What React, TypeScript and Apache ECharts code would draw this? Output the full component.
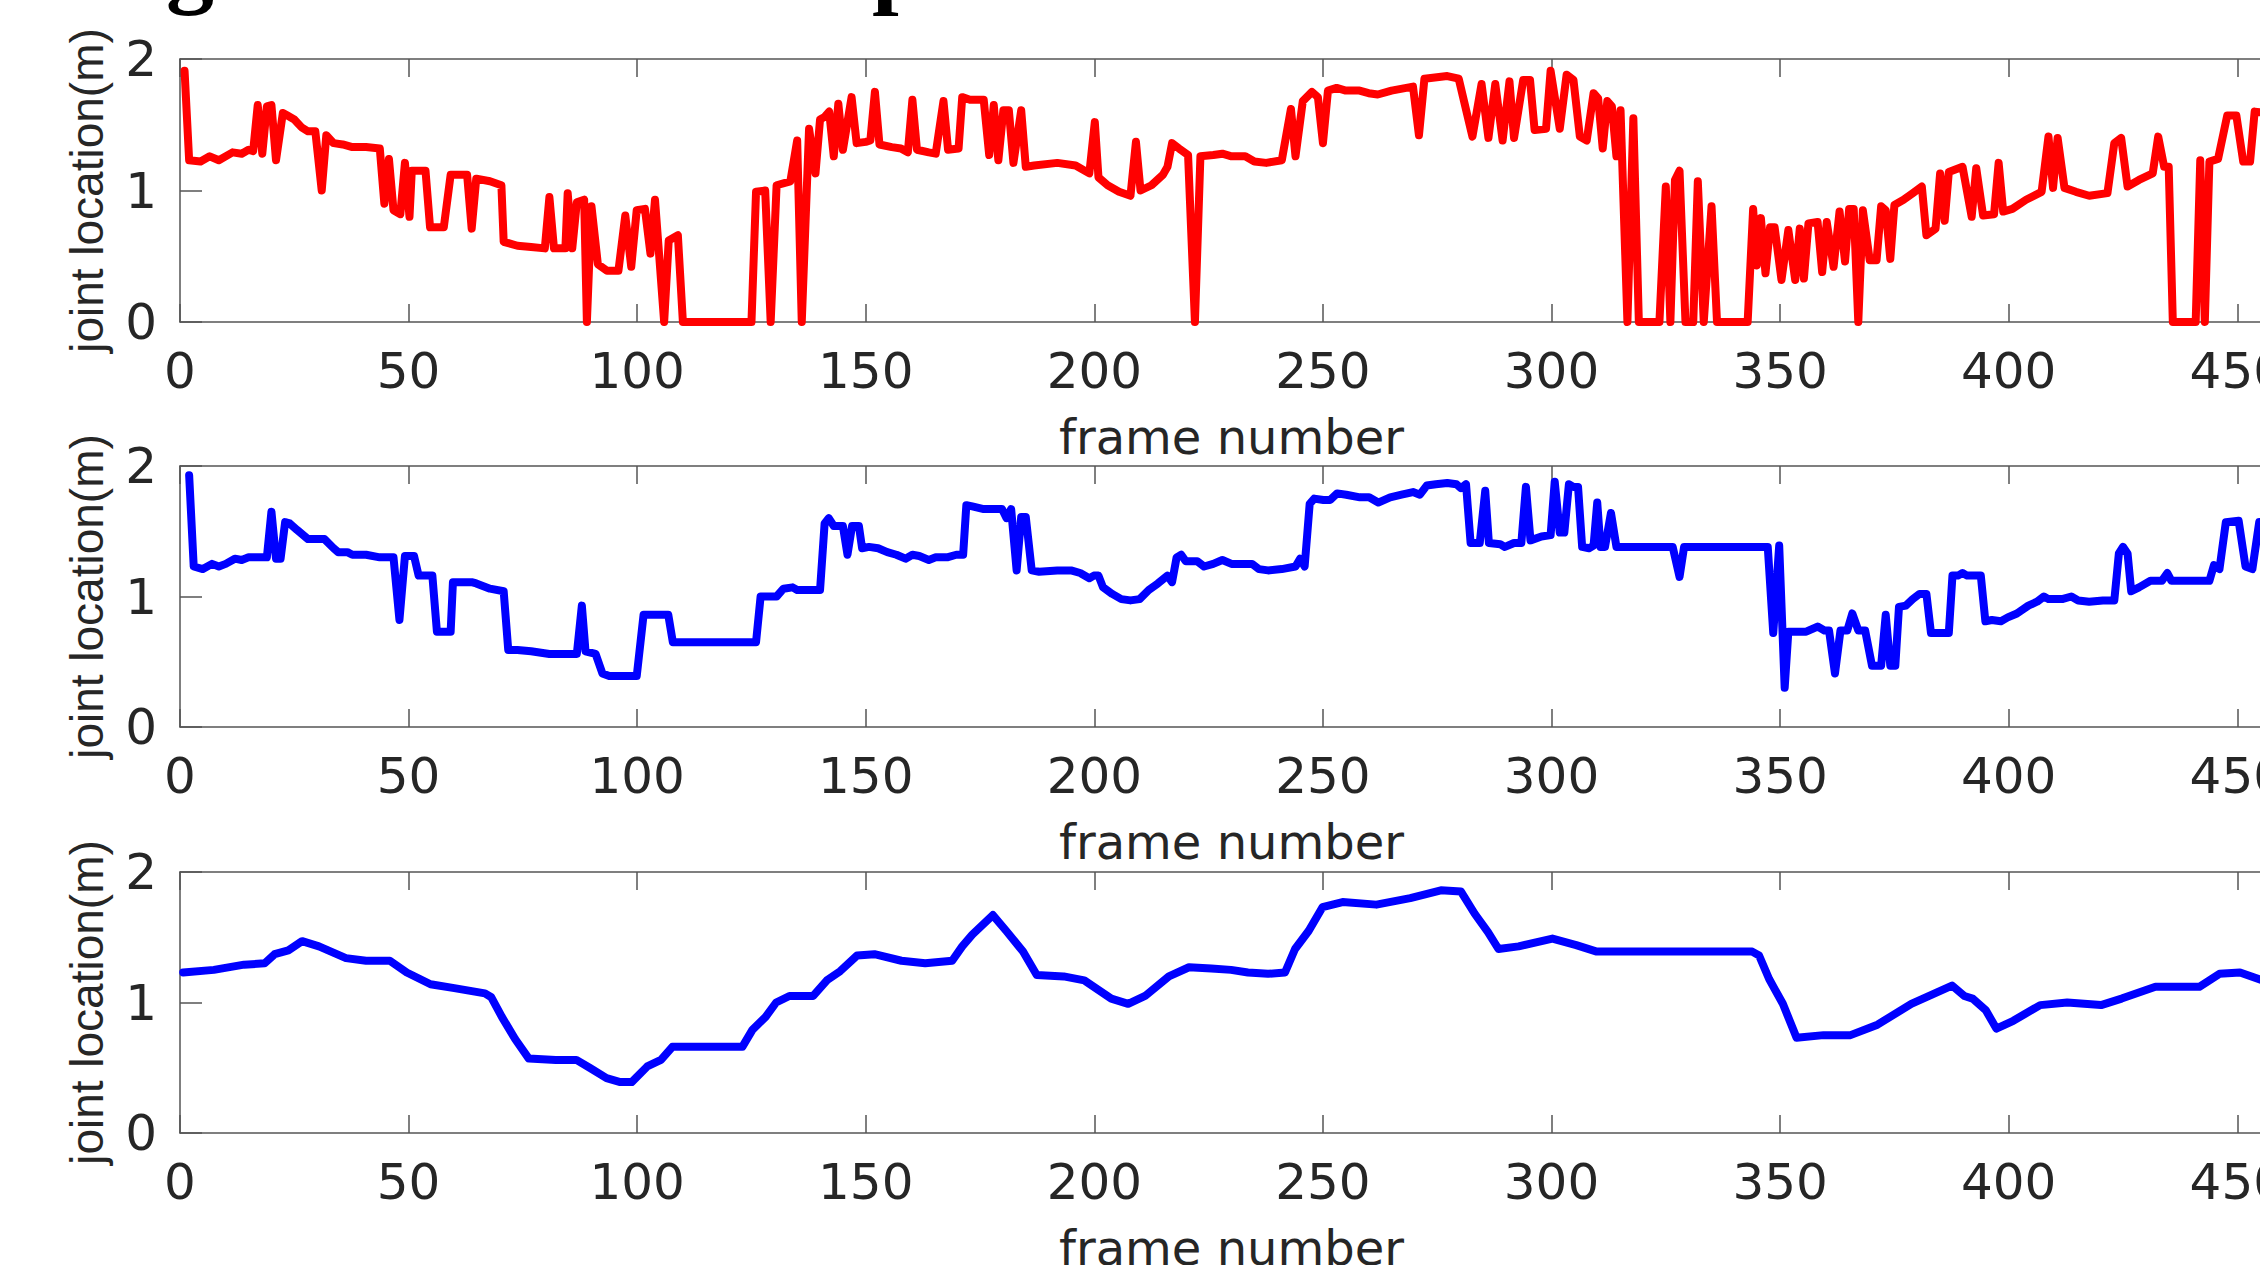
import React, { useEffect, useRef } from "react";
import * as echarts from "echarts";

// ---- data (frame number, joint location in m) ----
const yAxisTitle = "joint location(m)";
const xAxisTitle = "frame number";
const xTickStep = 50;
const yTickStep = 1;

const redPoints: [number, number][] = [
  [1,1.91],[2,1.23],[4.5,1.22],[6.5,1.26],[8.5,1.23],[11.5,1.29],[13.5,1.28],[15,1.31],[16,1.30],[17,1.65],[18,1.28],[19,1.64],[20,1.65],[21,1.23],[22.5,1.59],[23.5,1.57],[25,1.54],[26.6,1.48],[28,1.45],[29.6,1.45],[31,1.0],[32,1.42],[33.6,1.36],[35.6,1.35],[37.7,1.33],[40.7,1.33],[43.7,1.32],[44.7,0.90],[45.7,1.24],[46.7,0.85],[48.2,0.82],[49.2,1.21],[50.2,0.80],[50.7,1.15],[52.2,1.15],[53.7,1.15],[54.7,0.72],[57.7,0.72],[59.2,1.12],[62.8,1.12],[63.8,0.71],[64.8,1.09],[67.8,1.07],[70.3,1.04],[70.8,0.61],[73.8,0.58],[76.8,0.57],[79.8,0.56],[80.8,0.95],[81.8,0.56],[84.3,0.56],[84.8,0.98],[85.8,0.56],[86.8,0.91],[88.4,0.93],[89,0],[90,0.88],[91.4,0.44],[93.4,0.39],[95.9,0.39],[97.4,0.81],[98.7,0.42],[99.9,0.85],[101.7,0.86],[102.9,0.52],[103.9,0.93],[105.9,0],[106.9,0.62],[108.9,0.66],[110,0],[125,0],[126,0.99],[128,1.0],[129.2,0],[130.5,1.04],[133.5,1.07],[135,1.38],[136,0],[137.6,1.47],[139,1.13],[140,1.54],[141,1.56],[142,1.60],[143,1.26],[144,1.66],[145,1.31],[146.9,1.71],[148,1.36],[150,1.37],[151,1.38],[152,1.75],[153,1.35],[155.7,1.33],[157.7,1.32],[159.2,1.29],[160.2,1.69],[161.2,1.31],[163.8,1.29],[165.3,1.28],[167,1.68],[168,1.31],[170.3,1.32],[171.1,1.71],[172.8,1.69],[175.8,1.69],[177,1.27],[178,1.65],[179,1.23],[180.1,1.61],[181.3,1.61],[182.3,1.21],[184,1.61],[185,1.18],[186.8,1.19],[191.9,1.21],[195.9,1.19],[198.9,1.13],[200.1,1.52],[200.9,1.10],[202.9,1.04],[205.4,0.99],[207.9,0.96],[209.1,1.37],[210.1,1.00],[212.5,1.04],[215,1.12],[216,1.18],[217,1.36],[218.5,1.32],[220.5,1.27],[222,0],[223.2,1.26],[226,1.27],[228,1.28],[230,1.26],[233,1.26],[235,1.22],[237.6,1.21],[241,1.23],[243,1.62],[244,1.26],[245.6,1.68],[247.6,1.75],[248.9,1.71],[250,1.36],[251.1,1.76],[253,1.78],[255,1.76],[258,1.76],[260,1.74],[262,1.73],[265,1.76],[269.7,1.79],[271,1.42],[272.2,1.85],[277.2,1.87],[279.7,1.85],[282.7,1.41],[284.7,1.81],[286.2,1.40],[287.7,1.81],[289.3,1.38],[290.8,1.83],[291.8,1.40],[293.8,1.84],[295.3,1.84],[296.3,1.46],[298.8,1.47],[299.8,1.91],[301.8,1.47],[303.3,1.88],[304.8,1.84],[306.2,1.41],[307.7,1.38],[309.2,1.74],[310.2,1.70],[311.2,1.32],[312.2,1.68],[313.2,1.64],[314.2,1.26],[315.1,1.61],[316.6,0],[317.9,1.55],[319.1,0],[323.6,0],[325,1.03],[326,0],[327,1.08],[328,1.15],[329.3,0],[331,0],[332,1.07],[333.3,0],[335,0.88],[336.2,0],[342.9,0],[344.1,0.86],[344.9,0.43],[345.8,0.79],[346.8,0.37],[347.8,0.72],[348.8,0.72],[350.3,0.32],[351.8,0.70],[353.3,0.32],[354.3,0.71],[355.2,0.33],[356.2,0.75],[358.2,0.76],[359.2,0.38],[360.2,0.76],[361.7,0.42],[363,0.84],[364.2,0.46],[365.1,0.86],[366.1,0.86],[367.1,0],[368.1,0.85],[369.6,0.47],[371.1,0.47],[372.1,0.88],[373.1,0.85],[374.1,0.48],[375,0.89],[377,0.93],[379,0.98],[381,1.03],[382,0.66],[384,0.71],[385,1.13],[386,0.77],[386.9,1.14],[389.9,1.18],[391.9,0.80],[392.9,1.17],[394.4,0.81],[396.8,0.82],[397.8,1.21],[398.8,0.84],[400.8,0.86],[403.8,0.93],[407.2,0.99],[408.7,1.41],[409.7,1.02],[410.7,1.40],[412.2,1.02],[414.7,0.99],[417.6,0.96],[421.6,0.98],[423.1,1.36],[424.6,1.40],[426,1.03],[428.5,1.08],[431.5,1.13],[432.7,1.41],[434,1.18],[435,1.18],[435.9,0],[440.9,0],[441.9,1.23],[442.9,0],[443.9,1.22],[445.8,1.24],[447.8,1.57],[449.8,1.57],[451.3,1.22],[452.8,1.22],[453.8,1.60],[456,1.59]
];

const rawBluePoints: [number, number][] = [
  [2,1.93],[3,1.23],[5,1.21],[7,1.25],[8.5,1.23],[10,1.25],[12,1.29],[13.5,1.28],[15,1.30],[19,1.30],[20,1.65],[21,1.29],[22,1.29],[23,1.57],[24,1.56],[25.6,1.51],[28,1.44],[31.6,1.44],[33.6,1.37],[34.6,1.34],[36.6,1.34],[37.7,1.32],[40.7,1.32],[43.7,1.30],[46.7,1.30],[48,0.82],[49.2,1.31],[51.2,1.31],[52.2,1.16],[55.2,1.16],[56.2,0.73],[59.2,0.73],[59.7,1.11],[63.8,1.11],[64.8,1.10],[67.8,1.06],[70.8,1.04],[71.8,0.59],[73.8,0.59],[76.8,0.58],[80.8,0.56],[86.8,0.56],[87.9,0.93],[88.7,0.58],[90.9,0.56],[92.4,0.41],[93.9,0.39],[99.9,0.39],[101.4,0.86],[106.8,0.86],[107.8,0.65],[126,0.65],[127,1.00],[130.5,1.00],[132,1.06],[134,1.07],[135,1.05],[140,1.05],[141,1.56],[141.9,1.60],[143,1.54],[145,1.54],[146,1.32],[147,1.54],[148.5,1.54],[149.2,1.37],[150.7,1.38],[152.7,1.37],[154.7,1.34],[156.7,1.32],[158.7,1.29],[160.2,1.32],[161.7,1.31],[163.8,1.28],[165.3,1.30],[167.8,1.30],[169.8,1.32],[171.3,1.32],[172,1.70],[173.3,1.69],[175.8,1.67],[177.8,1.67],[179.8,1.67],[180.8,1.60],[181.8,1.67],[183,1.20],[184,1.61],[185,1.61],[186.3,1.20],[187.9,1.19],[191.9,1.20],[194.9,1.20],[196.9,1.18],[198.9,1.14],[199.9,1.16],[200.9,1.16],[201.9,1.07],[203.9,1.02],[205.9,0.98],[207.9,0.97],[209.9,0.98],[211.9,1.05],[213.9,1.10],[216,1.16],[217,1.11],[218,1.30],[219,1.32],[220,1.27],[222.5,1.27],[224,1.23],[226,1.25],[228,1.28],[230,1.25],[233,1.25],[234.5,1.25],[236,1.21],[238,1.20],[241,1.21],[244,1.23],[245,1.29],[246,1.23],[247.1,1.71],[248.1,1.75],[250.1,1.74],[251.6,1.74],[253.1,1.79],[255.1,1.78],[258.1,1.76],[260.1,1.76],[262.1,1.72],[264.7,1.76],[267.2,1.78],[269.7,1.80],[271.2,1.78],[272.7,1.85],[274.7,1.86],[277.2,1.87],[279.2,1.86],[280.2,1.83],[281.3,1.86],[282.3,1.41],[284.3,1.41],[285.5,1.81],[286.3,1.41],[288.8,1.40],[289.8,1.38],[291.8,1.41],[293.4,1.41],[294.4,1.84],[295.4,1.43],[297.8,1.46],[299.8,1.47],[300.7,1.88],[301.8,1.49],[302.8,1.49],[303.8,1.86],[304.8,1.84],[305.8,1.84],[306.7,1.38],[308.2,1.37],[309.2,1.39],[310,1.72],[310.7,1.38],[311.7,1.38],[313,1.64],[314.2,1.38],[326.5,1.38],[328,1.15],[329,1.38],[347.3,1.38],[348.5,0.72],[349.8,1.39],[351,0.30],[351.8,0.73],[355.7,0.73],[358.2,0.77],[359.7,0.74],[360.7,0.74],[362,0.41],[363.2,0.74],[364.7,0.74],[365.8,0.87],[367.1,0.74],[368.6,0.74],[370.1,0.47],[372.1,0.47],[373.1,0.86],[374.1,0.47],[375.2,0.47],[376,0.92],[377.5,0.93],[379,0.98],[380.5,1.02],[382,1.02],[383,0.72],[386.9,0.72],[387.7,1.16],[388.9,1.16],[389.9,1.18],[390.9,1.16],[393.9,1.16],[394.9,0.81],[396.3,0.82],[398.3,0.81],[399.8,0.84],[401.8,0.87],[404.3,0.93],[406.2,0.96],[407.7,1.00],[408.7,0.98],[411.7,0.98],[413.7,1.00],[415.2,0.97],[417.6,0.96],[420.6,0.97],[423.1,0.97],[424.1,1.33],[425,1.38],[426,1.33],[426.8,1.04],[428.5,1.07],[431,1.12],[433.5,1.12],[434.7,1.18],[435.6,1.12],[443.9,1.12],[444.9,1.24],[446.1,1.21],[447.5,1.57],[450.3,1.58],[451.8,1.23],[453.3,1.21],[454.8,1.57],[457,1.57]
];

const smoothBluePoints: [number, number][] = [
  [0.7,1.23],[7.4,1.25],[14,1.29],[18.5,1.30],[20.7,1.37],[23.7,1.40],[26.7,1.47],[30.4,1.43],[36.3,1.34],[40.7,1.32],[45.9,1.32],[49.6,1.23],[54.8,1.14],[60,1.11],[66.7,1.07],[68.1,1.04],[70.4,0.89],[73.3,0.72],[76.3,0.57],[82.2,0.56],[86.7,0.56],[89.6,0.50],[93.3,0.42],[96.3,0.39],[98.8,0.39],[102.2,0.51],[105.2,0.56],[107.7,0.66],[111.9,0.66],[117.8,0.66],[123,0.66],[125.2,0.79],[128.1,0.89],[130.4,1.00],[133.3,1.05],[138.5,1.05],[141.5,1.17],[144.4,1.24],[148.1,1.36],[151.9,1.37],[157.8,1.32],[163,1.30],[168.9,1.32],[171.1,1.43],[173.3,1.52],[177.8,1.67],[180.7,1.55],[184.4,1.39],[187.4,1.21],[193.3,1.20],[197.8,1.17],[203.7,1.03],[207.4,0.99],[211.1,1.05],[216.3,1.20],[220.7,1.27],[225.6,1.26],[229.9,1.25],[233.6,1.23],[238,1.22],[241.7,1.23],[243.9,1.41],[246.9,1.55],[249.9,1.73],[254.3,1.77],[261.7,1.75],[269.1,1.80],[275.8,1.86],[280.2,1.85],[283.2,1.68],[286.1,1.54],[288.4,1.41],[292.8,1.43],[300.2,1.49],[305.4,1.44],[309.9,1.39],[326.9,1.39],[343.9,1.39],[345.4,1.36],[347.6,1.18],[350.6,0.99],[353.6,0.73],[359.5,0.75],[365.4,0.75],[371.3,0.83],[378.7,0.99],[387.6,1.13],[390.3,1.05],[392.1,1.03],[395,0.94],[397.3,0.80],[401,0.86],[406.9,0.98],[412.8,1.00],[420.2,0.98],[424.7,1.03],[432.1,1.12],[441.7,1.12],[446.1,1.22],[450.6,1.23],[455.5,1.17]
];

const panelSeries = [
  { points: redPoints, color: "#ff0000" },
  { points: rawBluePoints, color: "#0000ff" },
  { points: smoothBluePoints, color: "#0000ff" },
];

const X_MIN = 0;
const X_MAX = 460;
const Y_MIN = 0;
const Y_MAX = 2;

export default function App() {
  const ref = useRef<HTMLDivElement>(null);

  useEffect(() => {
    if (!ref.current) return;
    const chart = echarts.init(ref.current, null, { renderer: "svg" });

    const axisColor = "#555555";
    const textColor = "#262626";
    const wideFont = "DejaVu Sans";
    const nameFont = "Liberation Sans";
    const tops = [59, 466, 872];
    const heights = [263, 261, 261];

    const grid = tops.map((top, i) => ({
      left: 180,
      right: -23,
      top,
      height: heights[i],
      containLabel: false,
      outerBoundsMode: "none",
    }));

    const xAxis: any[] = [];
    tops.forEach((_, i) => {
      xAxis.push({
        gridIndex: i,
        type: "value",
        position: "bottom",
        min: X_MIN,
        max: X_MAX,
        interval: xTickStep,
        axisLine: { show: true, onZero: false, lineStyle: { color: axisColor, width: 1.5 } },
        axisTick: { show: true, inside: true, length: 18, lineStyle: { color: axisColor, width: 1.5 } },
        axisLabel: { show: true, margin: 24, fontSize: 50, color: textColor, fontFamily: wideFont, showMaxLabel: false },
        splitLine: { show: false },
        name: xAxisTitle,
        nameLocation: "middle",
        nameGap: 91,
        nameTextStyle: { fontSize: 48, color: textColor, fontFamily: wideFont },
      });
      xAxis.push({
        gridIndex: i,
        type: "value",
        position: "top",
        min: X_MIN,
        max: X_MAX,
        interval: xTickStep,
        axisLine: { show: true, onZero: false, lineStyle: { color: axisColor, width: 1.5 } },
        axisTick: { show: true, inside: true, length: 18, lineStyle: { color: axisColor, width: 1.5 } },
        axisLabel: { show: false },
        splitLine: { show: false },
      });
    });

    const yAxis = tops.map((_, i) => ({
      gridIndex: i,
      type: "value",
      min: Y_MIN,
      max: Y_MAX,
      interval: yTickStep,
      axisLine: { show: true, onZero: false, lineStyle: { color: axisColor, width: 1.5 } },
      axisTick: { show: true, inside: true, length: 22, lineStyle: { color: axisColor, width: 1.5 } },
      axisLabel: { show: true, margin: 23, fontSize: 50, color: textColor, fontFamily: wideFont },
      splitLine: { show: false },
      name: yAxisTitle,
      nameLocation: "middle",
      nameRotate: 90,
      nameGap: 70,
      nameTextStyle: { fontSize: 46, color: textColor, fontFamily: nameFont },
    }));

    const series = panelSeries.map((s, i) => ({
      type: "line",
      xAxisIndex: i * 2,
      yAxisIndex: i,
      data: s.points,
      showSymbol: false,
      symbol: "none",
      clip: false,
      smooth: false,
      lineStyle: { color: s.color, width: 8, join: "round", cap: "round" },
      itemStyle: { color: s.color },
    }));

    chart.setOption({
      animation: false,
      backgroundColor: "#ffffff",
      grid,
      xAxis,
      yAxis,
      series,
      graphic: [
        {
          type: "text",
          x: 166,
          y: -37,
          style: {
            text: "g",
            font: 'bold 96px "Liberation Serif"',
            fill: "#000000",
            align: "left",
            verticalAlign: "middle",
          },
        },
        {
          type: "text",
          x: 872,
          y: -37,
          style: {
            text: "p",
            font: 'bold 96px "Liberation Serif"',
            fill: "#000000",
            align: "left",
            verticalAlign: "middle",
          },
        },
      ],
    });

    return () => chart.dispose();
  }, []);

  return (
    <div
      ref={ref}
      style={{ position: "fixed", left: 0, top: 0, width: 2260, height: 1265, background: "#ffffff" }}
    />
  );
}
